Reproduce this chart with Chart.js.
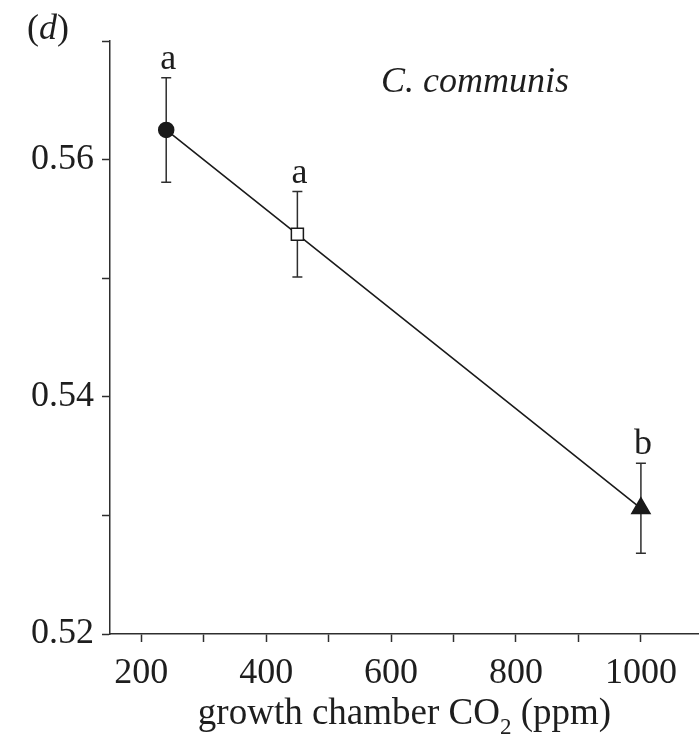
<!DOCTYPE html>
<html>
<head>
<meta charset="utf-8">
<script src="https://cdn.jsdelivr.net/npm/chart.js@4/dist/chart.umd.min.js"></script>
<style>
  html, body { margin: 0; padding: 0; background: #fff; }
  #wrap { width: 699px; height: 745px; position: relative; }
</style>
</head>
<body>
<div id="wrap"><canvas id="c" width="699" height="745"></canvas></div>
<script>
// Growth chamber CO2 levels (ppm) and the measured means for C. communis
const co2Levels = [240, 450, 1000];
const meanValues = [0.5625, 0.5537, 0.5306];
const errorValues = [0.0044, 0.0036, 0.0038];
const groupLetters = ['a', 'a', 'b'];

// Axis ticks
const xMajorTicks = [200, 400, 600, 800, 1000];
const xAllTicks = [200, 300, 400, 500, 600, 700, 800, 900, 1000];
const yMajorTicks = [0.52, 0.54, 0.56];
const yAllTicks = [0.52, 0.53, 0.54, 0.55, 0.56, 0.57];

const SERIF = '"Liberation Serif", "Times New Roman", serif';
const FS = 36;
const INK = '#1e1e1e';
const AXIS = '#2e2e2e';

const isMajor = (list, v) => list.some(m => Math.abs(m - v) < 1e-9);

// Vertical error bars with caps, drawn beneath the markers
const errorBarPlugin = {
  id: 'errorBars',
  beforeDatasetsDraw(chart) {
    const { ctx, scales: { x, y } } = chart;
    ctx.save();
    ctx.strokeStyle = AXIS;
    ctx.lineWidth = 1.5;
    co2Levels.forEach((v, i) => {
      const px = x.getPixelForValue(v);
      const top = y.getPixelForValue(meanValues[i] + errorValues[i]);
      const bot = y.getPixelForValue(meanValues[i] - errorValues[i]);
      ctx.beginPath();
      ctx.moveTo(px, top); ctx.lineTo(px, bot);
      ctx.moveTo(px - 5, top); ctx.lineTo(px + 5, top);
      ctx.moveTo(px - 5, bot); ctx.lineTo(px + 5, bot);
      ctx.stroke();
    });
    ctx.restore();
  },
  afterDraw(chart) {
    const { ctx, scales: { x, y }, chartArea } = chart;
    ctx.save();
    ctx.fillStyle = INK;
    // significance letters above each error bar
    ctx.font = FS + 'px ' + SERIF;
    ctx.textAlign = 'center';
    ctx.textBaseline = 'alphabetic';
    co2Levels.forEach((v, i) => {
      const px = x.getPixelForValue(v);
      const top = y.getPixelForValue(meanValues[i] + errorValues[i]);
      ctx.fillText(groupLetters[i], px + 2, top - 9);
    });

    // species name
    ctx.font = 'italic ' + FS + 'px ' + SERIF;
    ctx.textAlign = 'left';
    ctx.fillText('C. communis', 381, 92);

    // panel label "(d)"
    ctx.font = FS + 'px ' + SERIF;
    let cx = 27;
    const base = 39;
    ctx.fillText('(', cx, base); cx += ctx.measureText('(').width;
    ctx.font = 'italic ' + FS + 'px ' + SERIF;
    ctx.fillText('d', cx, base); cx += ctx.measureText('d').width;
    ctx.font = FS + 'px ' + SERIF;
    ctx.fillText(')', cx, base);

    // x-axis title with subscript
    const TS = 37;
    const partA = 'growth chamber CO';
    const partB = '2';
    const partC = ' (ppm)';
    ctx.font = TS + 'px ' + SERIF;
    const wA = ctx.measureText(partA).width;
    const wC = ctx.measureText(partC).width;
    ctx.font = '23px ' + SERIF;
    const wB = ctx.measureText(partB).width;
    const total = wA + wB + wC;
    let tx = (chartArea.left + chartArea.right) / 2 - total / 2;
    const tb = 724;
    ctx.font = TS + 'px ' + SERIF;
    ctx.fillText(partA, tx, tb); tx += wA;
    ctx.font = '23px ' + SERIF;
    ctx.fillText(partB, tx, tb + 10); tx += wB;
    ctx.font = TS + 'px ' + SERIF;
    ctx.fillText(partC, tx, tb);
    ctx.restore();
  }
};

new Chart(document.getElementById('c'), {
  type: 'scatter',
  data: {
    datasets: [{
      data: co2Levels.map((v, i) => ({ x: v, y: meanValues[i] })),
      showLine: true,
      borderColor: '#1a1a1a',
      borderWidth: 1.6,
      pointStyle: ['circle', 'rect', 'triangle'],
      pointRadius: [7.5, 8.5, 10.5],
      pointHoverRadius: [7.5, 8.5, 10.5],
      pointBackgroundColor: ['#1a1a1a', '#ffffff', '#1a1a1a'],
      pointBorderColor: '#1a1a1a',
      pointBorderWidth: 1.5,
      clip: false
    }]
  },
  options: {
    responsive: false,
    animation: false,
    devicePixelRatio: 1,
    layout: { autoPadding: false, padding: { top: 41, left: 0, right: 0, bottom: 0 } },
    plugins: { legend: { display: false }, tooltip: { enabled: false } },
    scales: {
      x: {
        type: 'linear',
        min: 150,
        max: 1093,
        afterBuildTicks: s => { s.ticks = xAllTicks.map(v => ({ value: v })); },
        afterFit: s => { s.height = 111; s.paddingLeft = 0; s.paddingRight = 0; },
        ticks: {
          autoSkip: false,
          maxRotation: 0,
          padding: 10,
          color: INK,
          font: { family: SERIF, size: FS },
          callback: v => isMajor(xMajorTicks, v) ? String(v) : ''
        },
        grid: {
          drawOnChartArea: false,
          drawTicks: true,
          tickLength: 8,
          tickColor: AXIS,
          tickWidth: 1.5
        },
        border: { display: true, color: AXIS, width: 1.5 }
      },
      y: {
        type: 'linear',
        min: 0.52,
        max: 0.57,
        afterBuildTicks: s => { s.ticks = yAllTicks.map(v => ({ value: v })); },
        afterFit: s => { s.width = 110; s.paddingTop = 0; s.paddingBottom = 0; },
        ticks: {
          autoSkip: false,
          padding: 8,
          color: INK,
          font: { family: SERIF, size: FS },
          callback: v => isMajor(yMajorTicks, v) ? v.toFixed(2) : ''
        },
        grid: {
          drawOnChartArea: false,
          drawTicks: true,
          tickLength: 8,
          tickColor: AXIS,
          tickWidth: 1.5
        },
        border: { display: true, color: AXIS, width: 1.5 }
      }
    }
  },
  plugins: [errorBarPlugin]
});
</script>
</body>
</html>
